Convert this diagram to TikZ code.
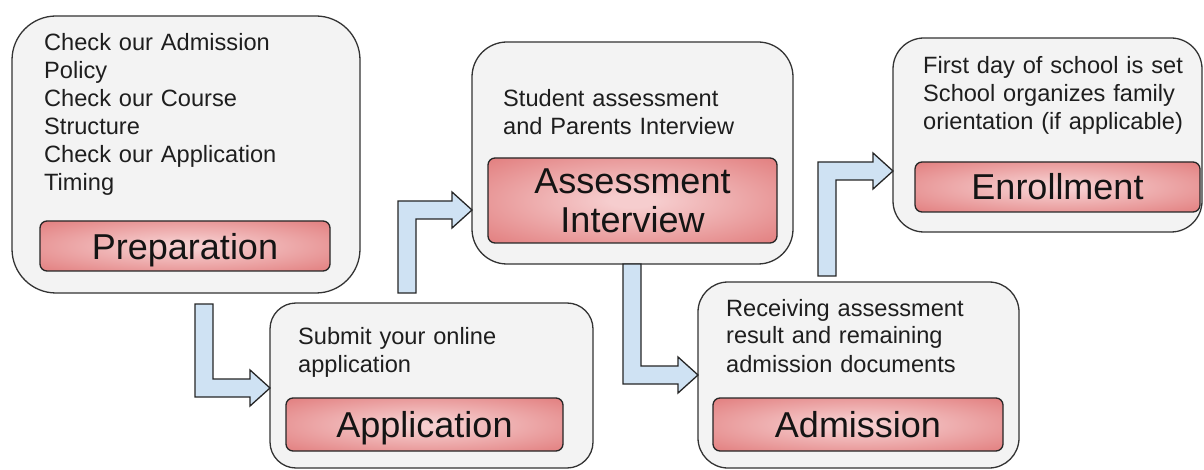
\documentclass[tikz,border=0pt]{standalone}
\usepackage{fontspec}
\setmainfont{Liberation Sans}
\definecolor{panelgray}{HTML}{F3F3F3}
\definecolor{arrowblue}{HTML}{CFE2F3}
\definecolor{titlered}{HTML}{DB6464}
\definecolor{titlepink}{HTML}{F6CDCE}
\definecolor{inkgray}{HTML}{1E1E1E}
% soft glow: pale in the middle, red towards the edges
\pgfdeclareradialshading{redglow}{\pgfpoint{0bp}{0bp}}{%
  color(0bp)=(titlepink); color(4bp)=(titlepink);
  color(42bp)=(titlered!90!titlepink); color(55bp)=(titlered); color(100bp)=(titlered)}
\tikzset{
  panel/.style={draw=black!80, line width=1.3pt, fill=panelgray,
    anchor=north west, inner sep=0pt, outer sep=0pt},
  stagebox/.style={draw=black!85, line width=1.3pt, shading=redglow,
    rounded corners=7pt, inner sep=0pt, outer sep=0pt},
  bodytext/.style={anchor=base west, inner sep=0pt, text width=300pt,
    align=left, text=inkgray, font=\fontsize{23.6}{28}\selectfont},
  stagetitle/.style={anchor=base, inner sep=0pt, text width=290pt,
    align=center, text=black!92, font=\fontsize{36}{39}\selectfont},
  blockarrow/.style={draw=black!85, line width=1.3pt, fill=arrowblue,
    line join=miter},
}
\begin{document}
\begin{tikzpicture}[x=1pt, y=-1pt]
\useasboundingbox (0,0) rectangle (1204,470);
\fill[white] (0,0) rectangle (1204,470);

% ---- step panels ----
\node[panel, rounded corners=44pt, minimum width=348pt, minimum height=277pt] (prep)   at (12,16)  {};
\node[panel, rounded corners=26pt, minimum width=323pt, minimum height=165pt] (appl)   at (270,303) {};
\node[panel, rounded corners=35pt, minimum width=321pt, minimum height=222pt] (assess) at (472,42)  {};
\node[panel, rounded corners=30pt, minimum width=321pt, minimum height=186pt] (admis)  at (698,282) {};
\node[panel, rounded corners=31pt, minimum width=309pt, minimum height=194pt] (enrol)  at (893,38)  {};

% ---- red stage labels ----
\node[stagebox, minimum width=290pt, minimum height=50pt] (prepred)   at (185,246)     {};
\node[stagebox, minimum width=277pt, minimum height=53pt] (applred)   at (424.5,424.5) {};
\node[stagebox, minimum width=289pt, minimum height=85pt] (assessred) at (632.5,200.5) {};
\node[stagebox, minimum width=290pt, minimum height=53pt] (admisred)  at (858,424.5)   {};
\node[stagebox, minimum width=285pt, minimum height=50pt] (enrolred)  at (1057.5,187)  {};

\node[stagetitle] (prept)   at ([yshift=-13pt]prepred.center)   {Preparation};
\node[stagetitle] (applt)   at ([yshift=-13pt]applred.center)   {Application};
\node[stagetitle] (assesst) at ([yshift=6.5pt]assessred.center) {Assessment\\Interview};
\node[stagetitle] (admist)  at ([yshift=-13pt]admisred.center)  {Admission};
\node[stagetitle] (enrolt)  at ([yshift=-13pt]enrolred.center)  {Enrollment};

% ---- descriptions ----
\node[bodytext] (prepd)   at (44,51)   {Check our Admission\\Policy\\Check our Course\\Structure\\Check our Application\\Timing};
\node[bodytext] (appld)   at (298,344) {Submit your online\\application};
\node[bodytext] (assessd) at (503,107) {Student assessment\\and Parents Interview};
\node[bodytext] (admisd)  at (726,316) {Receiving assessment\\result and remaining\\admission documents};
\node[bodytext] (enrold)  at (923,74)  {First day of school is set\\School organizes family\\orientation (if applicable)};

% ---- bent block arrows between the steps ----
\draw[blockarrow] (appl.west |- 0,388) -- (250,370) -- (250,379) -- (213,379)
  -- (213,304) -- (195,304) -- (195,397) -- (250,397) -- (250,406) -- cycle;
\draw[blockarrow] (assess.west |- 0,210) -- (452,192) -- (452,201) -- (398,201)
  -- (398,293) -- (416,293) -- (416,219) -- (452,219) -- (452,228) -- cycle;
\draw[blockarrow] (admis.west |- 0,375) -- (678,357) -- (678,366) -- (641,366)
  -- (641,264) -- (623,264) -- (623,384) -- (678,384) -- (678,393) -- cycle;
\draw[blockarrow] (enrol.west |- 0,171) -- (873,153) -- (873,162) -- (818,162)
  -- (818,276) -- (836,276) -- (836,180) -- (873,180) -- (873,189) -- cycle;
\end{tikzpicture}
\end{document}
